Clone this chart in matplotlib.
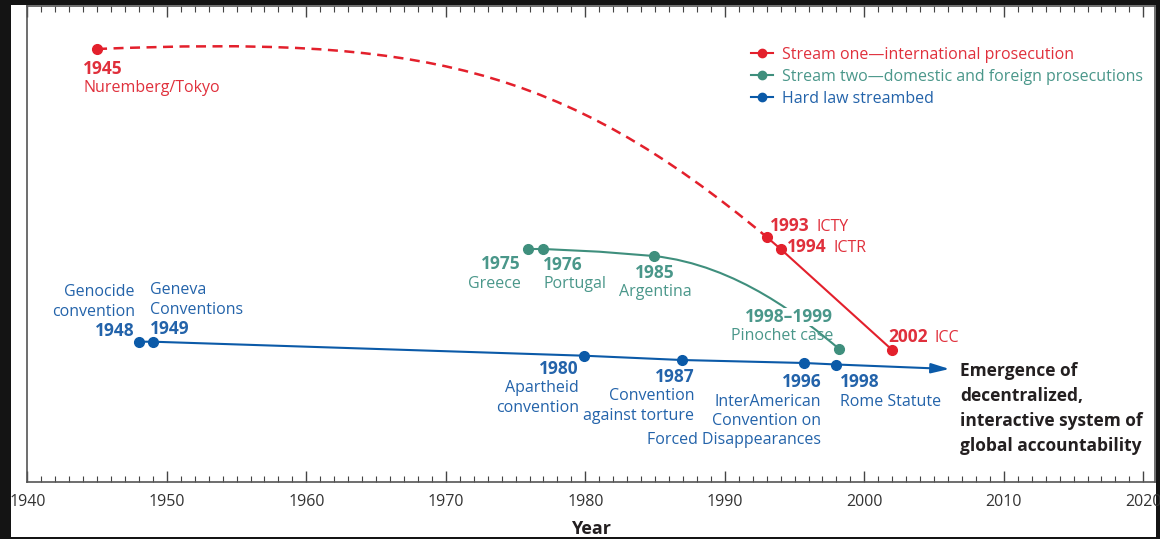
import matplotlib
matplotlib.use("Agg")
import matplotlib.pyplot as plt
from matplotlib.path import Path
from matplotlib.patches import PathPatch, Rectangle
from matplotlib.lines import Line2D
from matplotlib.ticker import MultipleLocator

plt.rcParams['font.family'] = ['Open Sans', 'DejaVu Sans']

RED = '#e3202c'
RED_TXT = '#e0303c'
GREEN = '#3f8f7d'
GREEN_TXT = '#4a978a'
BLUE = '#0b5aa8'
BLUE_TXT = '#2363aa'
DARK = '#231f20'
FS = 11.5      # regular label text
FS_B = 12.5    # bold years

# Stream one - international prosecution (x = year, y = height on the chart)
red_years = [1945, 1993, 1994, 2002]
red_level = [433, 245, 233, 132]
# dashed arc 1945 -> 1993: start, two bezier controls, end
red_arc_x = [1945, 1968, 1978.1, 1993]
red_arc_y = [433, 446, 418, 245]

# Stream two - domestic and foreign prosecutions
green_years = [1975.9, 1977.0, 1984.9, 1998.2]
green_level = [233, 233, 226, 133]
# path: straight part through the first points, then a bezier (two controls, end)
green_path_x = [1975.9, 1977.0, 1981.0, 1984.9, 1990.9, 1995.7, 1998.2]
green_path_y = [233, 233, 230.3, 226, 217, 162.25, 133]

# Hard law streambed
blue_years = [1948, 1949, 1979.9, 1986.9, 1995.7, 1998.0]
blue_level = [140.3, 140.3, 126.3, 122, 119, 117.5]
blue_end_year = 2006.1
blue_end_level = 113

legend_labels = ['Stream one\u2014international prosecution',
                 'Stream two\u2014domestic and foreign prosecutions',
                 'Hard law streambed']

W, H = 1160, 539
fig = plt.figure(figsize=(W / 100, H / 100), dpi=100)
fig.patch.set_facecolor('#141414')
fig.patches.append(Rectangle((11 / W, 2 / H), 1145 / W, 532 / H, transform=fig.transFigure,
                             facecolor='white', edgecolor='none', zorder=-5))

ax = fig.add_axes([27.3 / W, 57 / H, 1127.2 / W, 476 / H])
ax.set_xlim(1940, 2020.8)
ax.set_ylim(0, 476)
ax.set_facecolor('white')

# red dashed arc
arc = Path(list(zip(red_arc_x, red_arc_y)),
           [Path.MOVETO, Path.CURVE4, Path.CURVE4, Path.CURVE4])
ax.add_patch(PathPatch(arc, fill=False, edgecolor=RED, lw=1.8,
                       linestyle=(0, (4, 2.6)), zorder=2))
ax.plot(red_years[1:], red_level[1:], color=RED, lw=1.5, zorder=2)
ax.plot(red_years, red_level, 'o', color=RED, ms=7, zorder=4)

# green curve
green_codes = [Path.MOVETO, Path.LINETO, Path.LINETO, Path.LINETO,
               Path.CURVE4, Path.CURVE4, Path.CURVE4]
green = Path(list(zip(green_path_x, green_path_y)), green_codes)
ax.add_patch(PathPatch(green, fill=False, edgecolor=GREEN, lw=1.5, zorder=2))
ax.plot(green_years, green_level, 'o', color=GREEN, ms=7, zorder=4)

# blue line with arrow
ax.plot(blue_years, blue_level, color=BLUE, lw=1.5, zorder=2)
ax.annotate('', xy=(blue_end_year, blue_end_level), xytext=(blue_years[-1], blue_level[-1]),
            arrowprops=dict(arrowstyle='-|>,head_length=1.1,head_width=0.3',
                            color=BLUE, lw=1.5, shrinkA=0, shrinkB=0, mutation_scale=10),
            zorder=2)
ax.plot(blue_years, blue_level, 'o', color=BLUE, ms=7, zorder=4)


def stack(x, y, lines, color, ha='left', bold=(), step=19.5, size=None, weight_all=None):
    for i, s in enumerate(lines):
        b = i in bold or weight_all == 'bold'
        ax.text(x, y - i * step, s, color=color, ha=ha, va='center',
                fontsize=size or (FS_B if b else FS),
                fontweight='bold' if b else 'normal', zorder=5)


def pair(x, y, num, name, color):
    # bold year followed by a regular name on the same baseline
    t = ax.text(x, y, num, color=color, fontsize=FS_B, fontweight='bold',
                ha='left', va='baseline', zorder=5)
    ax.annotate(name, xy=(1, 0), xycoords=t, xytext=(5, 0), textcoords='offset points',
                color=color, fontsize=FS, ha='left', va='bottom', zorder=5)


# red labels
stack(1944.0, 413, ['1945', 'Nuremberg/Tokyo'], RED_TXT, bold=(0,))
pair(1993.24, 251, '1993', 'ICTY', RED_TXT)
pair(1994.46, 229.5, '1994', 'ICTR', RED_TXT)
pair(2001.7, 140, '2002', 'ICC', RED_TXT)

# green labels
stack(1975.36, 218, ['1975', 'Greece'], GREEN_TXT, ha='right', bold=(0,))
stack(1976.97, 217, ['1976', 'Portugal'], GREEN_TXT, bold=(0,))
stack(1985.0, 209, ['1985', 'Argentina'], GREEN_TXT, ha='center', bold=(0,))
ax.text(1997.78, 165, '1998\u20131999', color=GREEN_TXT, ha='right', va='center',
        fontsize=FS_B, fontweight='bold', zorder=5,
        bbox=dict(facecolor='white', edgecolor='none', pad=0.3))
ax.text(1997.78, 146, 'Pinochet case', color=GREEN_TXT, ha='right', va='center',
        fontsize=FS, zorder=5)

# blue labels
stack(1947.72, 190, ['Genocide', 'convention', '1948'], BLUE_TXT, ha='right', bold=(2,))
stack(1948.8, 192, ['Geneva', 'Conventions', '1949'], BLUE_TXT, bold=(2,))
stack(1979.55, 113, ['1980', 'Apartheid', 'convention'], BLUE_TXT, ha='right', bold=(0,))
stack(1987.8, 105, ['1987', 'Convention', 'against torture'], BLUE_TXT, ha='right', bold=(0,))
stack(1996.9, 100, ['1996', 'InterAmerican', 'Convention on', 'Forced Disappearances'],
      BLUE_TXT, ha='right', bold=(0,))
stack(1998.24, 100, ['1998', 'Rome Statute'], BLUE_TXT, bold=(0,))

stack(2006.86, 111, ['Emergence of', 'decentralized,', 'interactive system of',
                     'global accountability'], DARK, step=25, size=12.5, weight_all='bold')

# legend
handles = [Line2D([], [], color=c, marker='o', ms=6, lw=1.5) for c in (RED, GREEN, BLUE)]
ax.legend(handles, legend_labels, loc='upper left', bbox_to_anchor=(0.642, 0.914),
          frameon=False, fontsize=11.5, handlelength=1.35, handletextpad=0.62,
          labelspacing=0.38, borderpad=0, borderaxespad=0,
          labelcolor=[RED_TXT, GREEN_TXT, BLUE_TXT])

# axes styling
for s in ax.spines.values():
    s.set_color('#555555')
    s.set_linewidth(1.2)
ax.set_yticks([])
ax.xaxis.set_major_locator(MultipleLocator(10))
ax.xaxis.set_minor_locator(MultipleLocator(1))
ax.tick_params(axis='x', which='both', direction='in', top=True, colors='#444444',
               labelcolor='#333333', labelsize=11.5, pad=9)
ax.tick_params(axis='x', which='major', length=8, width=1)
ax.tick_params(axis='x', which='minor', length=4, width=0.8)
ax.set_xlabel('Year', fontsize=13, fontweight='bold', color=DARK, labelpad=7)

# dark frame over the bottom edge
fig.patches.append(Rectangle((0, 0), 1, 2 / H, transform=fig.transFigure,
                             facecolor='#141414', edgecolor='none', zorder=10))

fig.savefig('out.png', dpi=100, facecolor=fig.get_facecolor())
